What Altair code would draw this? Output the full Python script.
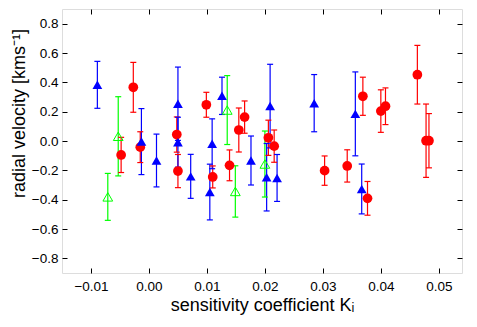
import math
import altair as alt
import pandas as pd

FONT = "Liberation Sans"

J_LABELS = ["J=1", "J=2", "J=3"]

# J=1 (red filled circles)
K1 = [-0.0027, -0.0015, -0.0048, 0.0048, 0.0050, 0.0099, 0.0110, 0.0139, 0.0155, 0.0165,
      0.0206, 0.0216, 0.0303, 0.0342, 0.0369, 0.0377, 0.0400, 0.0408, 0.0463, 0.0478, 0.0483]
V1 = [0.366, -0.042, -0.095, 0.044, -0.205, 0.247, -0.245, -0.166, 0.075, 0.163,
      0.022, -0.035, -0.202, -0.170, 0.305, -0.391, 0.204, 0.237, 0.452, 0.002, 0.002]
E1 = [0.17, 0.105, 0.12, 0.12, 0.113, 0.085, 0.075, 0.105, 0.15, 0.11,
      0.12, 0.11, 0.10, 0.11, 0.13, 0.115, 0.145, 0.125, 0.20, 0.25, 0.185]

# J=2 (green open triangles)
K2 = [-0.0071, -0.0053, 0.0135, 0.0149, 0.0200]
V2 = [-0.381, 0.032, 0.211, -0.344, -0.157]
E2 = [0.16, 0.27, 0.235, 0.175, 0.225]

# J=3 (blue filled triangles)
K3 = [-0.0089, -0.0013, 0.0013, 0.0050, 0.0050, 0.0072, 0.0105, 0.0109, 0.0126, 0.0176,
      0.0203, 0.0209, 0.0221, 0.0285, 0.0356, 0.0367]
V3 = [0.383, -0.004, -0.133, 0.254, -0.008, -0.241, -0.348, -0.019, 0.308, -0.133,
      -0.247, 0.238, -0.252, 0.258, 0.185, -0.327]
E3 = [0.16, 0.225, 0.18, 0.25, 0.17, 0.15, 0.19, 0.17, 0.127, 0.167,
      0.23, 0.285, 0.16, 0.195, 0.286, 0.17]

X_TICKS = [-0.01, 0.0, 0.01, 0.02, 0.03, 0.04, 0.05]
Y_TICKS = [-0.8, -0.6, -0.4, -0.2, 0.0, 0.2, 0.4, 0.6, 0.8]
X_DOMAIN = [-0.015, 0.054]
Y_DOMAIN = [-0.9, 0.9]

COLORS = ["#ff0000", "#00ff00", "#0000ff"]
FILLS = ["#ff0000", "transparent", "#0000ff"]

rows = []
for lab, Ks, Vs, Es in zip(J_LABELS, [K1, K2, K3], [V1, V2, V3], [E1, E2, E3]):
    for k, v, e in zip(Ks, Vs, Es):
        rows.append({"J": lab, "K": k, "V": v, "lo": v - e, "hi": v + e})
df = pd.DataFrame(rows)

W, H = 400, 264

xs = alt.Scale(domain=X_DOMAIN, nice=False, zero=False)
ys = alt.Scale(domain=Y_DOMAIN, nice=False, zero=False)

# ---- legend key glyphs (symbol-unit coordinates, drawn right of the right-aligned label) ----
KEY_LINE = "M2.8,0L9.8,0M2.8,-0.6L2.8,0.6M9.8,-0.6L9.8,0.6"
KC = 6.3  # marker centre on the key line
KEY_CIRCLE = "M" + "L".join(
    f"{KC + 1.05 * math.cos(2 * math.pi * i / 16):.3f},{1.05 * math.sin(2 * math.pi * i / 16):.3f}"
    for i in range(16)) + "Z"
KEY_TRIANGLE = f"M{KC},-0.85L{KC + 1.0},0.8L{KC - 1.0},0.8Z"
KEY_GLYPHS = [KEY_LINE + KEY_CIRCLE, KEY_LINE + KEY_TRIANGLE, KEY_LINE + KEY_TRIANGLE]


def per_entry(values):
    """Vega expression choosing a value by legend entry."""
    return (f"datum.value === '{J_LABELS[0]}' ? '{values[0]}' : "
            f"datum.value === '{J_LABELS[1]}' ? '{values[1]}' : '{values[2]}'")


legend = alt.Legend(
    title=None, orient="bottom-right", offset=7, padding=0, rowPadding=0,
    labelFont=FONT, labelFontSize=12, labelColor="black",
    labelAlign="right", labelOffset=0, symbolSize=100,
    symbolType=alt.ExprRef(per_entry(KEY_GLYPHS)),
    symbolStrokeColor=alt.ExprRef(per_entry(COLORS)),
    symbolOpacity=1, symbolStrokeWidth=1,
)

axis_common = dict(offset=-5, tickSize=5, domain=False, grid=False,
                   tickColor="black", labelColor="black",
                   labelFont=FONT, labelFontSize=13.5)
title_common = dict(titleColor="black", titleFont=FONT, titleFontSize=18,
                    titleFontWeight="normal")

color_nl = alt.Color("J:N", scale=alt.Scale(domain=J_LABELS, range=COLORS), legend=None)

rules = alt.Chart(df).mark_rule(strokeWidth=1.2, opacity=1).encode(
    x=alt.X("K:Q", scale=xs, axis=alt.Axis(orient="top", values=X_TICKS, labels=False,
                                           title=None, **axis_common)),
    y=alt.Y("lo:Q", scale=ys, axis=alt.Axis(orient="right", values=Y_TICKS, labels=False,
                                            title=None, **axis_common)),
    y2="hi:Q",
    color=color_nl,
)

caps = alt.Chart(df).transform_fold(["lo", "hi"], as_=["end", "yv"]).mark_tick(
    orient="horizontal", size=6, thickness=1.2, opacity=1
).encode(
    x=alt.X("K:Q", scale=xs, axis=None),
    y=alt.Y("yv:Q", scale=ys, axis=None),
    color=color_nl,
)

pts_j1 = alt.Chart(df).transform_filter("datum.J === 'J=1'").mark_point(
    shape="circle", filled=True, size=95, opacity=1
).encode(
    x=alt.X("K:Q", scale=xs, axis=alt.Axis(orient="bottom", values=X_TICKS, format=".2f",
                                           title="sensitivity coefficient Kᵢ", labelPadding=6,
                                           titlePadding=4, **axis_common, **title_common)),
    y=alt.Y("V:Q", scale=ys, axis=alt.Axis(orient="left", values=Y_TICKS, format=".1f",
                                           title="radial velocity [kms⁻¹]", labelPadding=4,
                                           titlePadding=3, titleY=round(0.394 * H),
                                           **axis_common, **title_common)),
    color=color_nl,
)

pts_j2 = alt.Chart(df).transform_filter("datum.J === 'J=2'").mark_point(
    shape="triangle-up", filled=False, size=95, strokeWidth=1, opacity=1
).encode(
    x=alt.X("K:Q", scale=xs, axis=None),
    y=alt.Y("V:Q", scale=ys, axis=None),
    color=color_nl,
)

pts_j3 = alt.Chart(df).transform_filter("datum.J === 'J=3'").mark_point(
    shape="triangle-up", filled=True, size=95, opacity=1
).encode(
    x=alt.X("K:Q", scale=xs, axis=None),
    y=alt.Y("V:Q", scale=ys, axis=None),
    color=color_nl,
)

# legend-only layer (no rows drawn; the legend comes from the fill scale's fixed domain)
key = alt.Chart(df).transform_filter("false").mark_point(
    filled=False, strokeWidth=1, opacity=1
).encode(
    x=alt.X("K:Q", scale=xs, axis=None),
    y=alt.Y("V:Q", scale=ys, axis=None),
    fill=alt.Fill("J:N", scale=alt.Scale(domain=J_LABELS, range=FILLS), legend=legend),
)

chart = alt.layer(rules, caps, pts_j1, pts_j2, pts_j3, key).resolve_axis(
    x="independent", y="independent"
).properties(
    width=W, height=H,
    padding={"left": 2, "top": 0, "right": 2, "bottom": 0},
).configure_view(stroke="black", strokeWidth=1).configure(font=FONT)

chart.save("out.html", embed_options={"renderer": "svg", "actions": False})
